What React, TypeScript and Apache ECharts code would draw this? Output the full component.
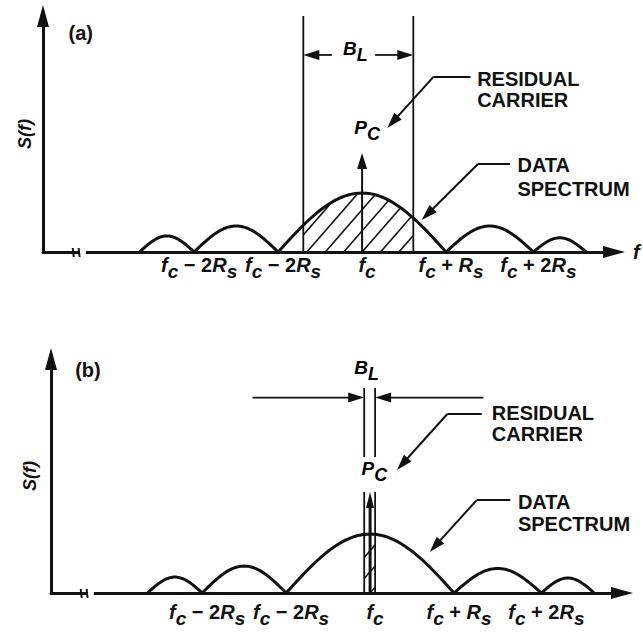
import React, { useEffect, useRef } from "react";
import * as echarts from "echarts";

const FONT = '"Liberation Sans", Arial, Helvetica, sans-serif';
const INK = "#111";
const WEIGHT = "bold";

// ---------- data (x: multiples of Rs measured from f_c; y: relative spectral level 0–10) ----------
const xRange = [-3.8, 3.0];
const yRange = [0, 10];

const lobeStart = [-2.65, -2.0, -1.0, 1.0, 2.04];
const lobeEnd = [-2.0, -1.0, 1.0, 2.04, 2.67];
const lobeHeightA = [0.68, 1.1, 2.5, 1.1, 0.6];
const lobeHeightB = [0.68, 1.15, 2.52, 1.05, 0.64];
const mainLobe = 2;

const tickValues = [-2.0, -1.0, 0, 1.0, 2.04];
const tickLabels = [
  "{i|f}{s|c}{n| − 2}{i|R}{s|s}",
  "{i|f}{s|c}{n| − 2}{i|R}{s|s}",
  "{i|f}{s|c}",
  "{i|f}{s|c}{n| + }{i|R}{s|s}",
  "{i|f}{s|c}{n| + 2}{i|R}{s|s}",
];

// loop bandwidth B_L edges
const bandA = [-0.7, 0.61];
const bandB = [-0.07, 0.06];
// residual carrier impulse height
const carrierA = 4.19;
const carrierB = 4.32;

// axis break marks on the frequency axis
const breakTicks = [-3.44, -3.37];
const breakGap = [-3.36, -3.29];

const calloutTexts = ["RESIDUAL", "CARRIER", "DATA", "SPECTRUM"];
const panelNames = ["(a)", "(b)"];
const bandwidthLabel = "{m|B}{s|L}";
const carrierLabel = "{m|P}{s|C}";

// ---------- annotation anchors (data units) ----------
const annA = {
  bandSegments: [[0, 10]],
  blArrowY: 8.35,
  blTails: [-0.36, 0.155],
  blLabel: [-0.08, 9.04],
  pcLabel: [0.06, 5.69],
  panelLabel: [-3.35, 9.28],
  residualLeader: [[1.29, 7.42], [0.85, 7.42], [0.3, 5.25]],
  dataLeader: [[1.76, 3.73], [1.38, 3.73], [0.71, 1.36]],
  callouts: [[1.37, 7.31], [1.37, 6.44], [1.85, 3.67], [1.85, 2.65]],
  carrierLW: 2,
  carrierHead: 10,
};
const annB = {
  bandSegments: [[0, 4.32], [5.81, 8.76]],
  blArrowY: 8.35,
  blTails: [-1.4, 1.35],
  blLabel: [-0.04, 10.06],
  pcLabel: [0.05, 5.74],
  panelLabel: [-3.36, 9.53],
  residualLeader: [[1.33, 7.65], [0.92, 7.65], [0.32, 5.26]],
  dataLeader: [[1.67, 3.97], [1.27, 3.97], [0.71, 1.75]],
  callouts: [[1.45, 7.69], [1.45, 6.79], [1.76, 3.89], [1.76, 2.95]],
  carrierLW: 3,
  carrierHead: 8,
};

const subRich = {
  m: { fontFamily: FONT, fontSize: 19, fontStyle: "italic", fontWeight: WEIGHT, color: INK, verticalAlign: "top", lineHeight: 22 },
  s: { fontFamily: FONT, fontSize: 18, fontStyle: "italic", fontWeight: WEIGHT, color: INK, verticalAlign: "top", lineHeight: 22, padding: [7, 0, 0, 0] },
};

const tickRich = {
  i: { fontFamily: FONT, fontSize: 20, fontStyle: "italic", fontWeight: WEIGHT, color: INK, verticalAlign: "top", lineHeight: 22 },
  s: { fontFamily: FONT, fontSize: 19, fontStyle: "italic", fontWeight: WEIGHT, color: INK, verticalAlign: "top", lineHeight: 22, padding: [7, 0, 0, 0] },
  n: { fontFamily: FONT, fontSize: 20, fontWeight: WEIGHT, color: INK, verticalAlign: "top", lineHeight: 22 },
};

function seg(x1: number, y1: number, x2: number, y2: number, lw: number) {
  return { type: "line", shape: { x1, y1, x2, y2 }, style: { stroke: INK, lineWidth: lw } };
}

function arrow(p0: number[], p1: number[], len: number, wid: number, lw: number) {
  const dx = p1[0] - p0[0];
  const dy = p1[1] - p0[1];
  const d = Math.hypot(dx, dy) || 1;
  const ux = dx / d;
  const uy = dy / d;
  const bx = p1[0] - ux * len;
  const by = p1[1] - uy * len;
  return [
    seg(p0[0], p0[1], bx + ux * 2, by + uy * 2, lw),
    {
      type: "polygon",
      shape: { points: [[p1[0], p1[1]], [bx - (uy * wid) / 2, by + (ux * wid) / 2], [bx + (uy * wid) / 2, by - (ux * wid) / 2]] },
      style: { fill: INK },
    },
  ];
}

function hatchLines(api: any, a: number, b: number, h: number, band: number[], spacing: number, slope: number) {
  const pa = api.coord([a, 0]);
  const pb = api.coord([b, 0]);
  const yb = pa[1];
  const hpx = yb - api.coord([a, h])[1];
  const xL = api.coord([band[0], 0])[0];
  const xR = api.coord([band[1], 0])[0];
  const fc = api.coord([0, 0])[0];
  const curve = (x: number) => hpx * Math.sin((Math.PI * (x - pa[0])) / (pb[0] - pa[0]));
  const out: any[] = [];
  const kMin = Math.floor((xL - hpx / slope - fc) / spacing) - 1;
  const kMax = Math.ceil((xR - fc) / spacing) + 1;
  for (let k = kMin; k <= kMax; k++) {
    const c = fc + k * spacing;
    const sMin = Math.max(0, (xL - c) * slope);
    const sEdge = (xR - c) * slope;
    if (sEdge <= sMin) continue;
    const f = (s: number) => curve(c + s / slope) - s;
    if (f(sMin) <= 0) continue;
    let sMax = sEdge;
    if (f(sEdge) < 0) {
      let lo = sMin;
      let hi = sEdge;
      for (let it = 0; it < 40; it++) {
        const m = (lo + hi) / 2;
        if (f(m) >= 0) lo = m;
        else hi = m;
      }
      sMax = lo;
    }
    out.push(seg(c + sMin / slope, yb - sMin, c + sMax / slope, yb - sMax, 1.6));
  }
  return out;
}

function lobeSeries(gi: number, heights: number[]) {
  return {
    type: "custom",
    xAxisIndex: gi,
    yAxisIndex: gi,
    silent: true,
    z: 4,
    data: lobeStart.map((s, i) => [s, lobeEnd[i], heights[i]]),
    encode: { x: [0, 1], y: 2 },
    renderItem: (_p: any, api: any) => {
      const a = api.value(0);
      const b = api.value(1);
      const h = api.value(2);
      const pts: number[][] = [];
      const N = 48;
      for (let k = 0; k <= N; k++) {
        pts.push(api.coord([a + ((b - a) * k) / N, h * Math.sin((Math.PI * k) / N)]));
      }
      return { type: "polyline", shape: { points: pts }, style: { stroke: INK, lineWidth: 3, fill: "none" } };
    },
  };
}

function hatchSeries(gi: number, heights: number[], band: number[]) {
  return {
    type: "custom",
    xAxisIndex: gi,
    yAxisIndex: gi,
    silent: true,
    z: 3,
    data: [[band[0], band[1]]],
    encode: { x: [0, 1] },
    renderItem: (_p: any, api: any) => ({
      type: "group",
      children: hatchLines(api, lobeStart[mainLobe], lobeEnd[mainLobe], heights[mainLobe], [api.value(0), api.value(1)], 18.4, 1.15),
    }),
  };
}

function annotationSeries(gi: number, band: number[], carrier: number, ann: any) {
  return {
    type: "custom",
    xAxisIndex: gi,
    yAxisIndex: gi,
    silent: true,
    z: 5,
    data: [[0, 0]],
    renderItem: (_p: any, api: any) => {
      const c = (x: number, y: number) => api.coord([x, y]);
      const kids: any[] = [];
      // axis break
      const t0 = c(breakTicks[0], 0);
      const t1 = c(breakTicks[1], 0);
      const g0 = c(breakGap[0], 0);
      const g1 = c(breakGap[1], 0);
      kids.push({ type: "rect", shape: { x: g0[0], y: g0[1] - 3, width: g1[0] - g0[0], height: 6 }, style: { fill: "#fff" } });
      kids.push(seg(t0[0] - 0.5, t0[1] - 4, t0[0] + 0.5, t0[1] + 5, 2));
      kids.push(seg(t1[0] - 0.5, t1[1] - 4, t1[0] + 0.5, t1[1] + 5, 2));
      // loop bandwidth edges
      for (const e of band) {
        for (const sgm of ann.bandSegments) {
          const q0 = c(e, sgm[0]);
          const q1 = c(e, sgm[1]);
          kids.push(seg(q0[0], q0[1], q1[0], q1[1], 1.8));
        }
      }
      // B_L dimension arrows
      kids.push(...arrow(c(ann.blTails[0], ann.blArrowY), c(band[0], ann.blArrowY), 16, 10, 1.8));
      kids.push(...arrow(c(ann.blTails[1], ann.blArrowY), c(band[1], ann.blArrowY), 16, 10, 1.8));
      // residual carrier impulse
      kids.push(...arrow(c(0, 0), c(0, carrier), 16, ann.carrierHead, ann.carrierLW));
      // leaders
      for (const leader of [ann.residualLeader, ann.dataLeader]) {
        const pts = leader.map((p: number[]) => c(p[0], p[1]));
        kids.push({ type: "polyline", shape: { points: pts.slice(0, -1) }, style: { stroke: INK, lineWidth: 2, fill: "none" } });
        kids.push(...arrow(pts[pts.length - 2], pts[pts.length - 1], 16, 10, 2));
      }
      // callout texts
      calloutTexts.forEach((t, i) => {
        const q = c(ann.callouts[i][0], ann.callouts[i][1]);
        kids.push({
          type: "text",
          x: q[0],
          y: q[1],
          style: { text: t, fontFamily: FONT, fontSize: 20, fontWeight: WEIGHT, fill: INK, align: "left", verticalAlign: "middle" },
        });
      });
      // panel name
      const pn = c(ann.panelLabel[0], ann.panelLabel[1]);
      kids.push({
        type: "text",
        x: pn[0],
        y: pn[1],
        style: { text: panelNames[gi], fontFamily: FONT, fontSize: 20, fontWeight: WEIGHT, fill: INK, align: "center", verticalAlign: "middle" },
      });
      // B_L and P_C labels
      const bl = c(ann.blLabel[0], ann.blLabel[1]);
      kids.push({ type: "text", x: bl[0], y: bl[1], style: { text: bandwidthLabel, rich: subRich, align: "center", verticalAlign: "top" } });
      const pc = c(ann.pcLabel[0], ann.pcLabel[1]);
      kids.push({ type: "text", x: pc[0], y: pc[1], style: { text: carrierLabel, rich: subRich, align: "center", verticalAlign: "top" } });
      return { type: "group", children: kids };
    },
  };
}

function xAxis(gi: number, margin: number, name: string) {
  return {
    type: "value",
    gridIndex: gi,
    min: xRange[0],
    max: xRange[1],
    splitLine: { show: false },
    axisTick: { show: false },
    axisLine: {
      onZero: false,
      symbol: ["none", "triangle"],
      symbolSize: [12, 22],
      lineStyle: { color: INK, width: 3 },
    },
    axisLabel: {
      customValues: tickValues,
      margin,
      padding: [0, 0, 0, 10],
      rich: tickRich,
      formatter: (v: number) => {
        const i = tickValues.findIndex((t) => Math.abs(t - v) < 1e-6);
        return i >= 0 ? tickLabels[i] : "";
      },
    },
    name,
    nameLocation: "end",
    nameGap: 19,
    nameTextStyle: { fontFamily: FONT, fontSize: 20, fontStyle: "italic", fontWeight: WEIGHT, color: INK, verticalAlign: "middle", padding: [0, 0, 10, 0] },
  };
}

function yAxis(gi: number, gap: number) {
  return {
    type: "value",
    gridIndex: gi,
    min: yRange[0],
    max: yRange[1],
    splitLine: { show: false },
    axisTick: { show: false },
    axisLabel: { show: false },
    axisLine: {
      onZero: false,
      symbol: ["none", "triangle"],
      symbolSize: [12, 22],
      lineStyle: { color: INK, width: 3 },
    },
    name: "S(f)",
    nameLocation: "middle",
    nameGap: gap,
    nameTextStyle: { fontFamily: FONT, fontSize: 18, fontStyle: "italic", fontWeight: WEIGHT, color: INK },
  };
}

function buildOption() {
  return {
    animation: false,
    backgroundColor: "#fff",
    grid: [
      { left: 43, right: 29, top: 16, bottom: 380, outerBoundsMode: "none", containLabel: false },
      { left: 51, right: 21, top: 359, bottom: 39, outerBoundsMode: "none", containLabel: false },
    ],
    xAxis: [xAxis(0, 3, "f"), xAxis(1, 9, "")],
    yAxis: [yAxis(0, 9), yAxis(1, 12)],
    series: [
      hatchSeries(0, lobeHeightA, bandA),
      lobeSeries(0, lobeHeightA),
      annotationSeries(0, bandA, carrierA, annA),
      hatchSeries(1, lobeHeightB, bandB),
      lobeSeries(1, lobeHeightB),
      annotationSeries(1, bandB, carrierB, annB),
    ],
  };
}

export default function App() {
  const ref = useRef<HTMLDivElement>(null);
  useEffect(() => {
    if (!ref.current) return;
    const chart = echarts.init(ref.current, null, { renderer: "svg" });
    chart.setOption(buildOption() as any);
    return () => chart.dispose();
  }, []);
  return (
    <div
      ref={ref}
      style={{ position: "fixed", left: 0, top: 0, width: 643, height: 632, background: "#fff" }}
    />
  );
}
